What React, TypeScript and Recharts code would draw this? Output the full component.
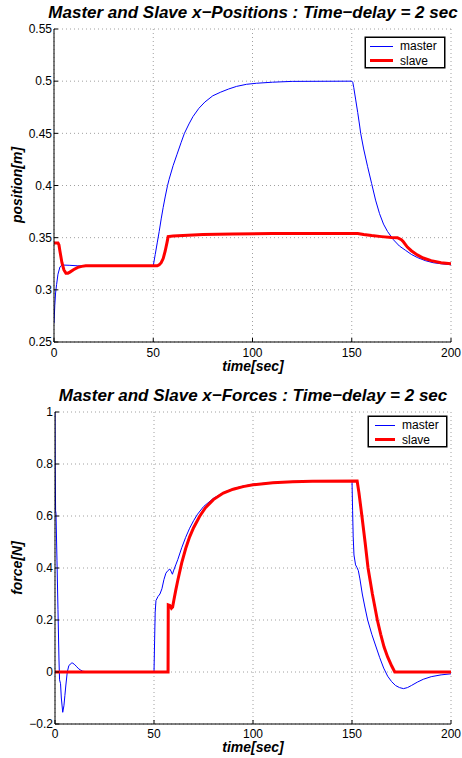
import { CartesianGrid, Line, LineChart, XAxis, YAxis } from "recharts";

const FONT = '"Liberation Sans", Arial, Helvetica, sans-serif';

const timeTicks = [0, 50, 100, 150, 200];
const positionTicks = [0.25, 0.3, 0.35, 0.4, 0.45, 0.5, 0.55];
const forceTicks = [-0.2, 0, 0.2, 0.4, 0.6, 0.8, 1];

// [time, value]
const masterPosition = [
  [0, 0.268], [0.4, 0.285], [0.8, 0.297], [1.3, 0.305], [2, 0.315], [3, 0.322], [4, 0.3238],
  [8, 0.3235], [12, 0.323], [50, 0.323], [51, 0.334], [52, 0.345], [53, 0.356], [54, 0.368],
  [55, 0.379], [56, 0.389], [57.2, 0.4], [58, 0.406], [60, 0.419], [62, 0.43], [64, 0.441],
  [65.7, 0.45], [68, 0.459], [70, 0.466], [73, 0.474], [76, 0.48], [80, 0.486], [84, 0.4895],
  [88, 0.4925], [92, 0.495], [97, 0.497], [102, 0.498], [110, 0.499], [120, 0.4998], [150, 0.5],
  [150.5, 0.499], [151, 0.494], [152, 0.482], [153, 0.47], [154, 0.457], [154.5, 0.45],
  [156, 0.435], [158, 0.418], [160, 0.402], [162, 0.386], [164, 0.373], [166, 0.363],
  [168, 0.356], [171, 0.348], [174, 0.342], [177, 0.338], [180, 0.334], [183, 0.331],
  [187, 0.328], [191, 0.326], [195, 0.325], [200, 0.324],
];

const slavePosition = [
  [0, 0.345], [2, 0.345], [2.5, 0.343], [3, 0.337], [4, 0.326], [5, 0.319], [6, 0.316],
  [7, 0.316], [8, 0.317], [10, 0.3195], [12, 0.3215], [14, 0.3225], [16, 0.323], [52, 0.323],
  [53, 0.324], [54, 0.326], [55, 0.33], [56, 0.337], [57, 0.346], [57.5, 0.351], [60, 0.3515],
  [65, 0.352], [75, 0.353], [90, 0.3535], [110, 0.354], [153, 0.354], [156, 0.353],
  [160, 0.352], [165, 0.351], [170, 0.3502], [173, 0.35], [175, 0.348], [176, 0.346],
  [178, 0.341], [180, 0.3375], [183, 0.3335], [186, 0.3305], [190, 0.328], [195, 0.326],
  [200, 0.325],
];

const masterForce = [
  [0, 1], [0.1, 0.8], [0.3, 0.62], [0.5, 0.61], [1, 0.43], [1.5, 0.24], [2, 0.05],
  [2.3, -0.03], [2.8, -0.045], [3.2, -0.1], [3.9, -0.155], [4.5, -0.13], [5, -0.09],
  [5.5, -0.05], [6.2, 0], [7, 0.025], [8.5, 0.035], [9, 0.034], [10, 0.028], [11, 0.02],
  [12, 0.012], [13, 0.007], [14, 0.003], [16, 0.001], [20, 0], [50, 0], [50.3, 0.12],
  [50.6, 0.23], [51, 0.275], [52, 0.29], [53, 0.3], [54, 0.32], [55, 0.355], [56, 0.38],
  [57, 0.39], [58, 0.396], [58.6, 0.388], [59.3, 0.376], [60, 0.392], [61, 0.412],
  [62, 0.432], [64, 0.478], [66, 0.518], [68, 0.553], [70, 0.582], [72, 0.607], [75, 0.636],
  [80, 0.668], [85, 0.69], [90, 0.705], [95, 0.715], [100, 0.722], [110, 0.729],
  [120, 0.733], [150, 0.735], [150.3, 0.62], [150.6, 0.52], [151, 0.45], [151.8, 0.412],
  [152.5, 0.402], [153.2, 0.39], [154, 0.358], [155.2, 0.3], [156.5, 0.25], [157.9, 0.2],
  [160, 0.145], [162, 0.1], [164, 0.055], [166, 0.015], [168, -0.016], [170, -0.037],
  [172, -0.052], [174, -0.06], [176, -0.064], [178, -0.06], [180, -0.052], [183, -0.039],
  [186, -0.028], [190, -0.018], [195, -0.011], [200, -0.007],
];

const slaveForce = [
  [0, 0], [57.1, 0], [57.2, 0.258], [58, 0.256], [58.8, 0.245], [59.4, 0.25], [60, 0.275],
  [61, 0.315], [62, 0.352], [64, 0.42], [66, 0.475], [68, 0.52], [70, 0.555], [73, 0.598],
  [76, 0.632], [80, 0.663], [85, 0.688], [90, 0.703], [95, 0.713], [100, 0.72],
  [110, 0.728], [120, 0.732], [130, 0.734], [152.6, 0.735], [153.5, 0.69], [155, 0.6],
  [156.6, 0.5], [158.1, 0.4], [160.3, 0.3], [162.8, 0.2], [164.5, 0.145], [166.2, 0.096],
  [168, 0.058], [170, 0.024], [171.6, 0], [200, 0],
];

const series = [
  { name: "master", color: "#0000ff", width: 1 },
  { name: "slave", color: "#ff0000", width: 3 },
];

const toRows = (pts: number[][]) => pts.map(([t, v]) => ({ t, v }));
const fmt = (v: number) => String(v).replace("-", "\u2212");

const tickStyle = { fill: "#000", fontSize: 12, fontFamily: FONT };

function Panel(props: {
  top: number;
  marginTop: number;
  axisHeight: number;
  axisWidth: number;
  yTicks: number[];
  master: number[][];
  slave: number[][];
  xTickMargin: number;
}) {
  const { top, marginTop, axisHeight, axisWidth, yTicks, master, slave, xTickMargin } = props;
  const domain: [number, number] = [yTicks[0], yTicks[yTicks.length - 1]];
  return (
    <div style={{ position: "absolute", left: 0, top }}>
      <LineChart width={462} height={379} margin={{ top: marginTop, right: 11, bottom: 0, left: 0 }}>
        <CartesianGrid stroke="#a0a0a0" strokeDasharray="1 3" />
        <XAxis
          dataKey="t"
          type="number"
          domain={[0, 200]}
          ticks={timeTicks}
          allowDataOverflow
          height={axisHeight}
          stroke="#000"
          tickSize={-4}
          tickMargin={xTickMargin}
          tick={tickStyle}
        />
        <XAxis
          xAxisId="top"
          orientation="top"
          dataKey="t"
          type="number"
          domain={[0, 200]}
          ticks={timeTicks}
          height={0}
          stroke="#000"
          tickSize={-4}
          tick={false}
        />
        <YAxis
          type="number"
          domain={domain}
          ticks={yTicks}
          allowDataOverflow
          width={axisWidth}
          stroke="#000"
          tickSize={-4}
          tickMargin={6}
          tick={tickStyle}
          tickFormatter={fmt}
        />
        <YAxis
          yAxisId="right"
          orientation="right"
          type="number"
          domain={domain}
          ticks={yTicks}
          width={0}
          stroke="#000"
          tickSize={-4}
          tick={false}
        />
        <Line
          data={toRows(master)}
          dataKey="v"
          name="master"
          type="linear"
          stroke={series[0].color}
          strokeWidth={series[0].width}
          dot={false}
          isAnimationActive={false}
        />
        <Line
          data={toRows(slave)}
          dataKey="v"
          name="slave"
          type="linear"
          stroke={series[1].color}
          strokeWidth={series[1].width}
          dot={false}
          isAnimationActive={false}
        />
      </LineChart>
    </div>
  );
}

function LegendBox(props: { left: number; top: number; width: number; lineLeft: number; lineWidth: number }) {
  const { left, top, width, lineLeft, lineWidth } = props;
  return (
    <div
      style={{
        position: "absolute",
        left,
        top,
        width,
        height: 31,
        boxSizing: "border-box",
        border: "1px solid #000",
        boxShadow: "0 0 0 0.5px #000",
        background: "#fff",
        fontFamily: FONT,
        fontSize: 12,
      }}
    >
      {series.map((s, i) => (
        <div
          key={s.name}
          style={{ position: "absolute", left: lineLeft, top: 1 + i * 14.5, height: 14, display: "flex", alignItems: "center" }}
        >
          <div style={{ width: lineWidth, height: s.width, background: s.color }} />
          <span style={{ marginLeft: 7, lineHeight: "14px", color: "#000" }}>{s.name}</span>
        </div>
      ))}
    </div>
  );
}

const titleStyle = {
  position: "absolute" as const,
  left: 3,
  width: 500,
  textAlign: "center" as const,
  fontFamily: FONT,
  fontSize: 17,
  lineHeight: "17px",
  fontWeight: "bold" as const,
  fontStyle: "italic" as const,
  whiteSpace: "nowrap" as const,
  color: "#000",
};

const labelStyle = {
  position: "absolute" as const,
  fontFamily: FONT,
  fontSize: 14,
  lineHeight: "14px",
  fontWeight: "bold" as const,
  fontStyle: "italic" as const,
  whiteSpace: "nowrap" as const,
  textAlign: "center" as const,
  color: "#000",
};

function YLabel(props: { text: string; cy: number }) {
  return (
    <div
      style={{
        ...labelStyle,
        left: 17 - 50,
        top: props.cy - 7,
        width: 100,
        transform: "rotate(-90deg)",
      }}
    >
      {props.text}
    </div>
  );
}

export default function App() {
  return (
    <div style={{ position: "absolute", left: 0, top: 0, width: 462, height: 758, background: "#fff" }}>
      <Panel
        top={0}
        marginTop={29}
        axisHeight={37}
        axisWidth={54}
        yTicks={positionTicks}
        master={masterPosition}
        slave={slavePosition}
        xTickMargin={10}
      />
      <Panel
        top={379}
        marginTop={33}
        axisHeight={34}
        axisWidth={55}
        yTicks={forceTicks}
        master={masterForce}
        slave={slaveForce}
        xTickMargin={9}
      />
      <div style={{ ...titleStyle, top: 4 }}>Master and Slave x−Positions : Time−delay = 2 sec</div>
      <div style={{ ...titleStyle, top: 387 }}>Master and Slave x−Forces : Time−delay = 2 sec</div>
      <div style={{ ...labelStyle, left: 203, width: 100, top: 359 }}>time[sec]</div>
      <div style={{ ...labelStyle, left: 203, width: 100, top: 740 }}>time[sec]</div>
      <YLabel text="position[m]" cy={185} />
      <YLabel text="force[N]" cy={568} />
      <LegendBox left={365} top={37} width={80} lineLeft={4} lineWidth={23} />
      <LegendBox left={368} top={416} width={79} lineLeft={6} lineWidth={20} />
    </div>
  );
}
